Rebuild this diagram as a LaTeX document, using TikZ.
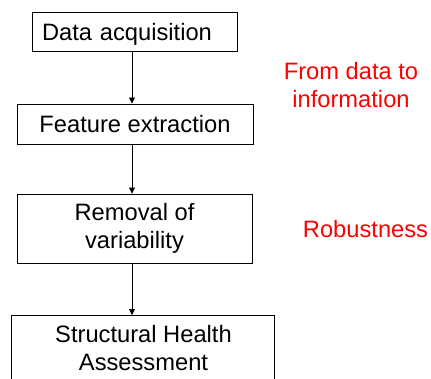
\documentclass[tikz,border=0pt]{standalone}
\usepackage{fontspec}
\setmainfont{Liberation Sans}
\usetikzlibrary{arrows.meta}
\begin{document}
\begin{tikzpicture}[x=1pt,y=-1pt,
  boxnode/.style={draw=black,line width=0.9pt,inner sep=0pt,align=center,
    font=\fontsize{23.7}{28}\selectfont},
  redtxt/.style={text=red,inner sep=0pt,align=center,
    font=\fontsize{23.7}{28}\selectfont},
  plaintxt/.style={inner sep=0pt,align=center,
    font=\fontsize{23.7}{28}\selectfont},
  arr/.style={line width=0.8pt,-{Triangle[length=6pt,width=6pt]}}]
\useasboundingbox (0,0) rectangle (431,378);
\coordinate (ax) at (132,0);
\node[boxnode,align=left,inner xsep=10pt,text width=185pt,text height=28pt,text depth=11pt] (b1) at (134.5,31.5) {Data acquisition};
\node[boxnode,minimum width=236pt,minimum height=40pt] (b2) at (135,124) {Feature extraction};
\node[boxnode,minimum width=235pt,minimum height=69pt] (b3) at (134.5,228.5) {Removal of\\variability};
\node[boxnode,minimum width=263pt,minimum height=100pt,anchor=north] (b4) at (142.5,315) {};
\node[plaintxt] (b4t) at (143.5,348.5) {Structural Health\\Assessment};
\draw[arr] (b1.south -| ax) -- (b2.north -| ax);
\draw[arr] (b2.south -| ax) -- (b3.north -| ax);
\draw[arr] (b3.south -| ax) -- (b4.north -| ax);
\node[redtxt] (r1) at (351,85.5) {From data to\\information};
\node[redtxt,anchor=base] (r2) at (365.5,237) {Robustness};
\end{tikzpicture}
\end{document}
